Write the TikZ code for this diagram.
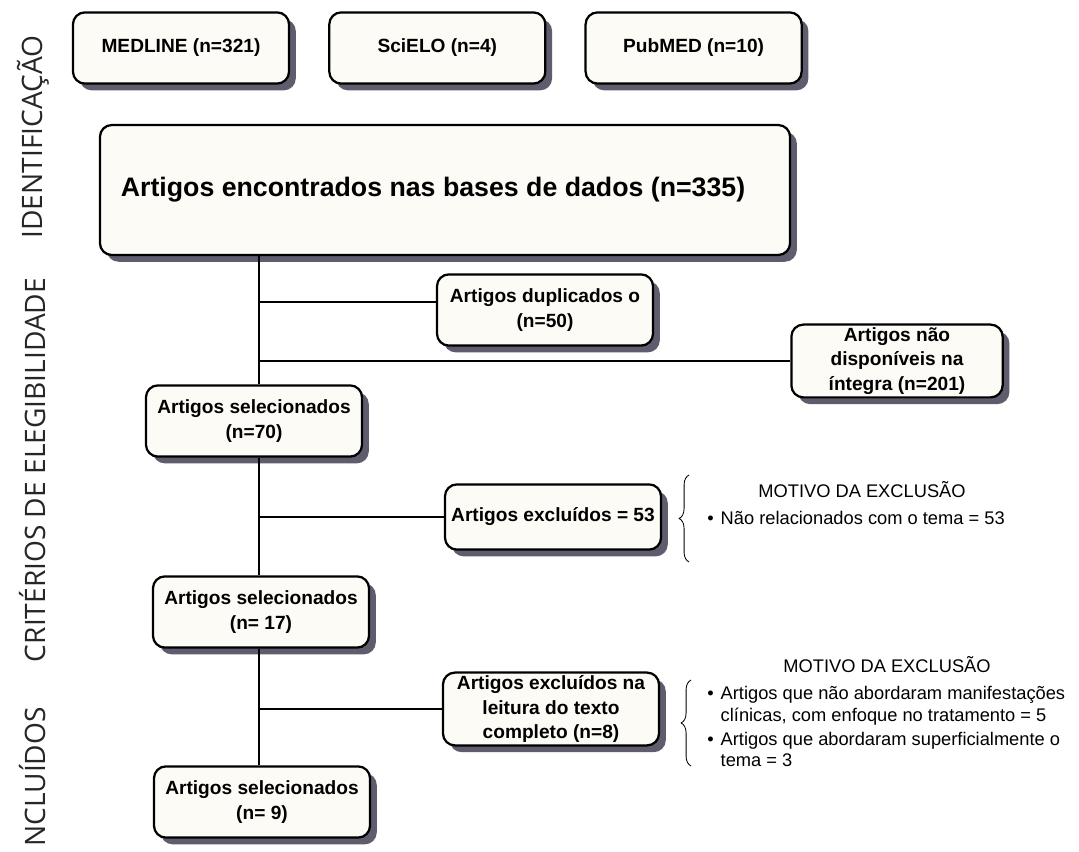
\documentclass[tikz,border=0pt]{standalone}
\usepackage{fontspec}
\setmainfont{Liberation Sans}
\newfontfamily\stagefont{Open Sans}
\usetikzlibrary{positioning,shadows,decorations.pathreplacing}
\definecolor{boxfill}{HTML}{FDFBF5}
\definecolor{shadowgray}{HTML}{5F5C6D}

\begin{document}
\begin{tikzpicture}[x = 0.025cm, y = -0.025cm]
  \useasboundingbox (0,0) rectangle (1079,852);
  \fill[white] (0,0) rectangle (1079,852);
  \tikzset{BoxStyle/.style   = {draw,
                                line width     = 1.6pt,
                                rounded corners = 8.5pt,
                                fill           = boxfill,
                                align          = center,
                                inner sep      = 2pt,
                                minimum width  = 5.4cm,
                                minimum height = 1.78cm,
                                font           = \bfseries\fontsize{13.6}{17.5}\selectfont,
                                drop shadow    = {shadow xshift = 4.8pt,
                                                  shadow yshift = -4.8pt,
                                                  fill = shadowgray,
                                                  opacity = 1}}}
  \tikzset{LineStyle/.style  = {line width     = 0.8pt}}
  \tikzset{BraceStyle/.style = {line width     = 0.6pt,
                                decorate,
                                decoration     = {brace, amplitude = 7pt}}}
  \tikzset{StageStyle/.style = {rotate         = 90,
                                text           = black!85,
                                font           = \stagefont\fontsize{20}{20}\selectfont}}
  \tikzset{NoteStyle/.style  = {inner sep      = 0pt,
                                font           = \fontsize{13}{15.6}\selectfont}}
     % fases
     \node[StageStyle](ident) at (33,137) {IDENTIFICAÇÃO};
     \node[StageStyle](elig) at (33,470) {CRITÉRIOS DE ELEGIBILIDADE};
     \node[StageStyle](incl) at (33,777) {NCLUÍDOS};
     % bases
     \node[BoxStyle](medline) at (181,48) {MEDLINE (n=321)};
     \node[BoxStyle,right=0.95cm of medline](scielo) {SciELO (n=4)};
     \node[BoxStyle,right=0.95cm of scielo](pubmed) {PubMED (n=10)};
     \node[BoxStyle,minimum width=17.25cm,minimum height=3.25cm,
           font=\bfseries\fontsize{19}{22}\selectfont](found) at (445,190)
           {\raisebox{2pt}{Artigos encontrados nas bases de dados (n=335)}\hspace*{17pt}};
     % triagem
     \coordinate (trunk) at (259,0);
     \node[BoxStyle](dup) at (545,310) {Artigos duplicados o\\(n=50)};
     \node[BoxStyle,minimum width=5.28cm](unav) at (897,361) {Artigos não\\disponíveis na\\íntegra (n=201)};
     \node[BoxStyle](sel70) at (254,421) {Artigos selecionados\\(n=70)};
     \node[BoxStyle,minimum height=1.63cm](exc53) at (553,517) {Artigos excluídos = 53};
     \node[BoxStyle](sel17) at (261,612) {Artigos selecionados\\(n= 17)};
     \node[BoxStyle](exc8) at (551,709) {Artigos excluídos na\\leitura do texto\\completo (n=8)};
     \node[BoxStyle](sel9) at (262,802) {Artigos selecionados\\(n= 9)};
     % ligacoes
     \draw[LineStyle](found.south -| trunk) -- (sel70.north -| trunk);
     \draw[LineStyle](sel70.south -| trunk) -- (sel17.north -| trunk);
     \draw[LineStyle](sel17.south -| trunk) -- (sel9.north -| trunk);
     \draw[LineStyle]([yshift=5.7pt]dup.west -| trunk) -- ([yshift=5.7pt]dup.west);
     \draw[LineStyle](unav.west -| trunk) -- (unav.west);
     \draw[LineStyle](exc53.west -| trunk) -- (exc53.west);
     \draw[LineStyle](exc8.west -| trunk) -- (exc8.west);
     % motivos
     \draw[BraceStyle](689,562) -- (689,475);
     \node[NoteStyle](title53) at (862,490) {MOTIVO DA EXCLUSÃO};
     \node[NoteStyle,anchor=west](why53) at (707,518)
           {\textbullet\hspace{5pt}Não relacionados com o tema = 53};
     \draw[BraceStyle](691,766) -- (691,680);
     \node[NoteStyle](title8) at (887,665) {MOTIVO DA EXCLUSÃO};
     \node[NoteStyle,anchor=west](why8) at (707,729)
           {\begin{tabular}{@{}l@{\hspace{5pt}}l@{}}
            \textbullet & Artigos que não abordaram manifestações\\
                        & clínicas, com enfoque no tratamento = 5\\[1pt]
            \textbullet & Artigos que abordaram superficialmente o\\
                        & tema = 3
            \end{tabular}};
  \end{tikzpicture}
\end{document}
